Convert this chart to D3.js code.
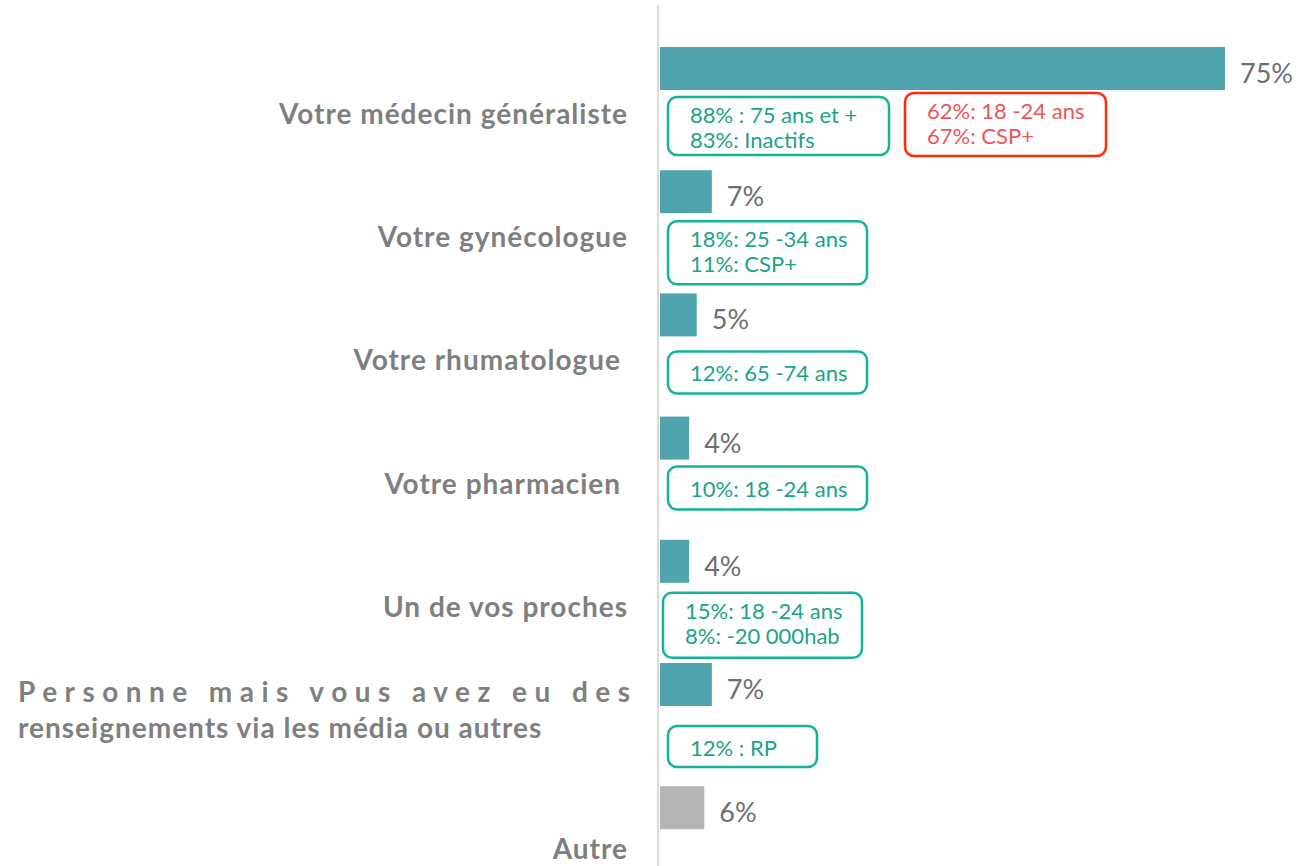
<!DOCTYPE html>
<html>
<head>
<meta charset="utf-8">
<script src="https://cdn.jsdelivr.net/npm/d3@7"></script>
<style>
  body { margin: 0; background: #fff; }
  text { font-family: Lato, "Open Sans", sans-serif; }
</style>
</head>
<body>
<div id="chart"></div>
<script>
// survey answers, share of respondents (%)
var categories = [
  "Votre médecin généraliste",
  "Votre gynécologue",
  "Votre rhumatologue",
  "Votre pharmacien",
  "Un de vos proches",
  "Personne mais vous avez eu des renseignements via les média ou autres",
  "Autre"
];
var values = [75, 7, 5, 4, 4, 7, 6];

// call-out boxes under the bars (over / under represented groups)
var notes = [
  { cat: 0, type: "plus", lines: ["88% : 75 ans et +", "83%: Inactifs"] },
  { cat: 0, type: "minus", lines: ["62%: 18 -24 ans", "67%: CSP+"] },
  { cat: 1, type: "plus", lines: ["18%: 25 -34 ans", "11%: CSP+"] },
  { cat: 2, type: "plus", lines: ["12%: 65 -74 ans"] },
  { cat: 3, type: "plus", lines: ["10%: 18 -24 ans"] },
  { cat: 4, type: "plus", lines: ["15%: 18 -24 ans", "8%: -20 000hab"] },
  { cat: 5, type: "plus", lines: ["12% : RP"] }
];
// box placement: [left, offset from band top, width, height]
var noteBoxes = [
  [668, 50, 221, 58],
  [905, 46, 201, 63],
  [668, 51, 199, 63],
  [668, 58, 199, 42],
  [668, 50, 199, 43],
  [663, 53, 199, 65],
  [668, 63, 149, 41]
];
// right edge / baseline offset of each category label
var labelRight = [628, 628, 621, 621, 628, 18, 628];
var labelDy = [77, 77, 77, 77, 77, 75, 73];

var width = 1298, height = 866;
var barColor = "#50a4ae", otherColor = "#b5b5b5";
var noteColors = { plus: { stroke: "#14b398", text: "#1aa487" }, minus: { stroke: "#ff2a0c", text: "#f0545a" } };

var svg = d3.select("#chart").append("svg")
  .attr("width", width)
  .attr("height", height);

var x = d3.scaleLinear().domain([0, 75]).range([659, 1225]);
var y = d3.scaleBand().domain(d3.range(categories.length)).range([47, 47 + 7 * 123.2]).padding(0);
var barH = 43;

// axis line
svg.append("line")
  .attr("x1", 658).attr("x2", 658)
  .attr("y1", 5).attr("y2", height)
  .attr("stroke", "#d9d9d9").attr("stroke-width", 2);

// bars
svg.selectAll("rect.bar")
  .data(values)
  .enter()
  .append("rect")
  .attr("class", "bar")
  .attr("x", x(0) + 1)
  .attr("y", function (d, i) { return y(i); })
  .attr("width", function (d) { return x(d) - x(0) - 1; })
  .attr("height", barH)
  .attr("fill", function (d, i) { return i === categories.length - 1 ? otherColor : barColor; });

// value labels
svg.selectAll("text.val")
  .data(values)
  .enter()
  .append("text")
  .attr("class", "val")
  .attr("x", function (d) { return x(d) + 15; })
  .attr("y", function (d, i) { return y(i) + 36; })
  .attr("font-size", 27)
  .attr("fill", "#6e6e6e")
  .text(function (d) { return d + "%"; });

// category labels
categories.forEach(function (c, i) {
  var t = svg.append("text")
    .attr("font-weight", 700)
    .attr("font-size", 28)
    .attr("letter-spacing", 1)
    .attr("fill", "#7f7f7f");
  if (i === 5) {
    svg.append("text")
      .attr("x", labelRight[i]).attr("y", y(i) + 39)
      .attr("font-weight", 700).attr("font-size", 28).attr("fill", "#7f7f7f")
      .attr("textLength", 612).attr("lengthAdjust", "spacing")
      .text("Personne mais vous avez eu des");
    t.attr("x", labelRight[i]).attr("y", y(i) + labelDy[i])
      .text("renseignements via les média ou autres");
  } else {
    t.attr("x", labelRight[i]).attr("y", y(i) + labelDy[i])
      .attr("text-anchor", "end")
      .text(c);
  }
});

// call-out boxes
var g = svg.selectAll("g.note")
  .data(notes)
  .enter()
  .append("g")
  .attr("class", "note")
  .attr("transform", function (d, i) {
    return "translate(" + noteBoxes[i][0] + "," + (y(d.cat) + noteBoxes[i][1]) + ")";
  });

g.append("rect")
  .attr("width", function (d, i) { return noteBoxes[i][2]; })
  .attr("height", function (d, i) { return noteBoxes[i][3]; })
  .attr("rx", 9)
  .attr("fill", "#fff")
  .attr("stroke", function (d) { return noteColors[d.type].stroke; })
  .attr("stroke-width", 2.5);

g.each(function (d, i) {
  var h = noteBoxes[i][3];
  var top = d.lines.length === 1 ? h / 2 + 9 : 26;
  d3.select(this).selectAll("text")
    .data(d.lines)
    .enter()
    .append("text")
    .attr("x", 22)
    .attr("y", function (l, j) { return top + j * 25; })
    .attr("font-size", 22)
    .attr("fill", noteColors[d.type].text)
    .text(function (l) { return l; });
});
</script>
</body>
</html>
